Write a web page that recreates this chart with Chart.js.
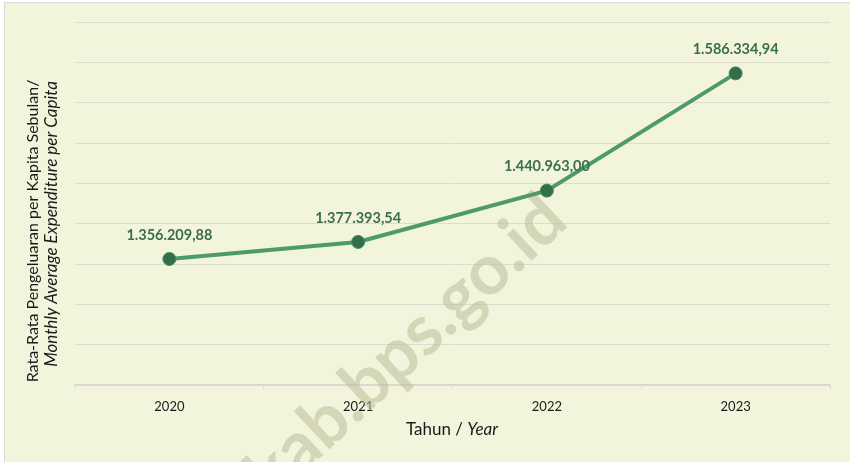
<!DOCTYPE html>
<html>
<head>
<meta charset="utf-8">
<script src="https://cdn.jsdelivr.net/npm/chart.js@4/dist/chart.umd.min.js"></script>
<style>
  html, body { margin: 0; padding: 0; background: #ffffff; }
  #wrap { width: 850px; height: 462px; }
</style>
</head>
<body>
<div id="wrap"><canvas id="myChart" width="850" height="462"></canvas></div>
<script>
// data
const years = ['2020', '2021', '2022', '2023'];
const expenditure = [1356209.88, 1377393.54, 1440963.00, 1586334.94];
const yTicks = [1200000, 1650000, 50000]; // min, max, step

const FONT = 'Lato, "Open Sans", sans-serif';

// 1356209.88 -> "1.356.209,88"
function formatId(v) {
    let parts = v.toFixed(2).split('.');
    let intPart = parts[0].replace(/\B(?=(\d{3})+(?!\d))/g, '.');
    return intPart + ',' + parts[1];
}

// background box, watermark, titles and value labels
const decorPlugin = {
    id: 'decor',
    beforeDraw(chart) {
        const ctx = chart.ctx;
        ctx.save();
        ctx.fillStyle = '#ffffff';
        ctx.fillRect(0, 0, chart.width, chart.height);
        ctx.fillStyle = '#f2f4db';
        ctx.fillRect(4, 2, chart.width, chart.height);
        ctx.strokeStyle = '#d9d9d9';
        ctx.lineWidth = 1;
        ctx.strokeRect(4.5, 2.5, chart.width + 10, chart.height + 10);
        ctx.restore();
    },
    beforeDatasetsDraw(chart) {
        const ctx = chart.ctx;
        ctx.save();
        ctx.translate(555, 208);
        ctx.rotate(-43 * Math.PI / 180);
        ctx.font = 'bold 70px ' + FONT;
        ctx.fillStyle = 'rgba(188, 190, 155, 0.55)';
        ctx.textAlign = 'right';
        ctx.textBaseline = 'middle';
        ctx.fillText('kab.bps.go.id', 0, 0);
        ctx.restore();
    },
    afterDatasetsDraw(chart) {
        const ctx = chart.ctx;
        const meta = chart.getDatasetMeta(0);
        ctx.save();
        ctx.font = 'bold 14.5px ' + FONT;
        ctx.fillStyle = '#3b6e4c';
        ctx.textAlign = 'center';
        ctx.textBaseline = 'middle';
        meta.data.forEach((pt, i) => {
            ctx.fillText(formatId(expenditure[i]), pt.x, pt.y - 24);
        });

        // y title, two lines, second one italic
        ctx.fillStyle = '#1a1a1a';
        ctx.save();
        ctx.translate(33, 231);
        ctx.rotate(-Math.PI / 2);
        ctx.font = '16px ' + FONT;
        ctx.fillText('Rata-Rata Pengeluaran per Kapita Sebulan/', 0, 0);
        ctx.restore();
        ctx.save();
        ctx.translate(52, 224);
        ctx.rotate(-Math.PI / 2);
        ctx.font = 'italic 17px ' + FONT;
        ctx.fillText('Monthly Average Expenditure per Capita', 0, 0);
        ctx.restore();

        // x title "Tahun / Year"
        ctx.font = '17px ' + FONT;
        const a = 'Tahun / ';
        const wa = ctx.measureText(a).width;
        ctx.font = 'italic 17px ' + FONT;
        const wb = ctx.measureText('Year').width;
        const x0 = 452 - (wa + wb) / 2;
        ctx.textAlign = 'left';
        ctx.font = '17px ' + FONT;
        ctx.fillText(a, x0, 430);
        ctx.font = 'italic 17px ' + FONT;
        ctx.fillText('Year', x0 + wa, 430);
        ctx.restore();
    }
};

const ctx = document.getElementById('myChart').getContext('2d');
const myChart = new Chart(ctx, {
    type: 'line',
    data: {
        labels: years,
        datasets: [{
            data: expenditure,
            borderColor: '#4f9a69',
            borderWidth: 4,
            tension: 0,
            pointRadius: 6.5,
            pointBackgroundColor: '#336e4b',
            pointBorderColor: '#468a5d',
            pointBorderWidth: 1
        }]
    },
    options: {
        responsive: false,
        animation: false,
        layout: { padding: { left: 75, right: 20, top: 22, bottom: 0 } },
        plugins: {
            legend: { display: false },
            tooltip: { enabled: false }
        },
        scales: {
            x: {
                offset: true,
                grid: {
                    offset: true,
                    drawOnChartArea: false,
                    drawTicks: true,
                    tickLength: 4,
                    color: '#d9d9d9'
                },
                border: { color: '#d9d6cf', width: 1.5 },
                ticks: {
                    color: '#1a1a1a',
                    font: { family: FONT, size: 13 },
                    padding: 10
                },
                afterFit(scale) { scale.height = 77; }
            },
            y: {
                min: yTicks[0],
                max: yTicks[1],
                ticks: { stepSize: yTicks[2], display: false },
                grid: { color: '#dcdcd0', drawTicks: false },
                border: { display: false },
                afterFit(scale) { scale.width = 0; }
            }
        }
    },
    plugins: [decorPlugin]
});
</script>
</body>
</html>
